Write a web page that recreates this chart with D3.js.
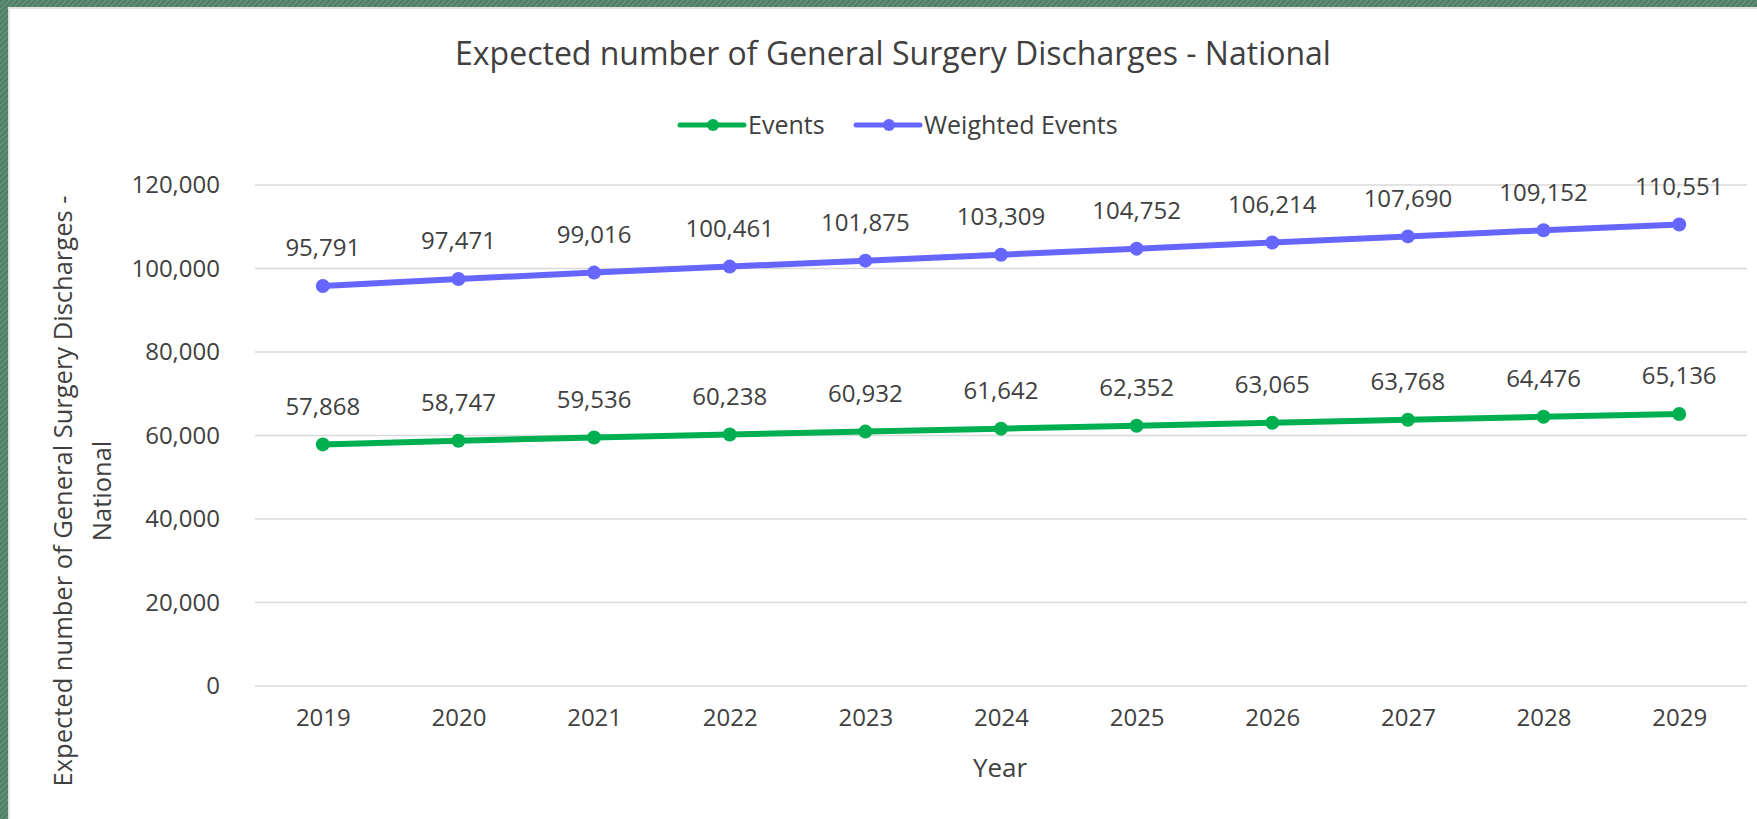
<!DOCTYPE html>
<html>
<meta charset="utf-8"/>
<head>
  <title>Expected number of General Surgery Discharges - National</title>
  <style>
    body { margin: 0; background: #5a8a72; }
    text {
      font-family: "Open Sans", sans-serif;
      fill: #404040;
    }
    .grid line {
      stroke: #d9d9d9;
      stroke-width: 1.5px;
    }
  </style>
</head>

<body>
  <svg width="1757" height="819"></svg>

  <script src="https://d3js.org/d3.v7.min.js"></script>
  <script>
// data
var years = ["2019", "2020", "2021", "2022", "2023", "2024", "2025", "2026", "2027", "2028", "2029"];
var events = [57868, 58747, 59536, 60238, 60932, 61642, 62352, 63065, 63768, 64476, 65136];
var weightedEvents = [95791, 97471, 99016, 100461, 101875, 103309, 104752, 106214, 107690, 109152, 110551];
var yTicks = [0, 20000, 40000, 60000, 80000, 100000, 120000];

var series = [
  { name: "Events", values: events, color: "#00b050" },
  { name: "Weighted Events", values: weightedEvents, color: "#6666ff" }
];

var svg = d3.select("svg");

// green hatched frame
var defs = svg.append("defs");
var pat = defs.append("pattern")
    .attr("id", "hatch")
    .attr("width", 4).attr("height", 4)
    .attr("patternUnits", "userSpaceOnUse")
    .attr("patternTransform", "rotate(45)");
pat.append("rect").attr("width", 4).attr("height", 4).attr("fill", "#5f8f77");
pat.append("rect").attr("width", 2).attr("height", 4).attr("fill", "#4e7d65");

svg.append("rect").attr("width", 1757).attr("height", 819).attr("fill", "url(#hatch)");
svg.append("rect").attr("x", 8).attr("y", 7).attr("width", 1757).attr("height", 819).attr("fill", "#e3e3e3");
svg.append("rect").attr("x", 10).attr("y", 9).attr("width", 1757).attr("height", 819).attr("fill", "#fff");

// plot area (window.top is reserved, so use other names)
var plotLeft = 255, plotRight = 1747, plotTop = 185, plotBottom = 686;

var x = d3.scalePoint()
    .domain(years)
    .range([plotLeft, plotRight])
    .padding(0.5);

var y = d3.scaleLinear()
    .domain([0, 120000])
    .range([plotBottom, plotTop]);

var fmt = d3.format(",");

// gridlines
svg.append("g")
    .attr("class", "grid")
  .selectAll("line")
  .data(yTicks)
  .enter().append("line")
    .attr("x1", plotLeft)
    .attr("x2", plotRight)
    .attr("y1", d => y(d))
    .attr("y2", d => y(d));

// y axis labels
var yAxis = svg.append("g")
    .attr("transform", "translate(" + (plotLeft - 35) + ",0)")
    .call(d3.axisLeft(y).tickValues(yTicks).tickFormat(fmt).tickSize(0).tickPadding(0));
yAxis.select(".domain").remove();
yAxis.selectAll("text")
    .attr("font-size", 24)
    .attr("fill", "#404040")
    .attr("font-family", "Open Sans, sans-serif");

// x axis labels
var xAxis = svg.append("g")
    .attr("transform", "translate(0," + (plotBottom + 23) + ")")
    .call(d3.axisBottom(x).tickSize(0).tickPadding(0));
xAxis.select(".domain").remove();
xAxis.selectAll("text")
    .attr("font-size", 24)
    .attr("fill", "#404040")
    .attr("font-family", "Open Sans, sans-serif");

// lines
var line = d3.line()
    .x((d, i) => x(years[i]))
    .y(d => y(d));

var g = svg.append("g")
  .selectAll("g")
  .data(series)
  .enter().append("g");

g.append("path")
    .attr("d", d => line(d.values))
    .attr("fill", "none")
    .attr("stroke", d => d.color)
    .attr("stroke-width", 6)
    .attr("stroke-linecap", "round");

g.each(function(s) {
  var sel = d3.select(this);
  sel.selectAll("circle")
    .data(s.values)
    .enter().append("circle")
      .attr("cx", (d, i) => x(years[i]))
      .attr("cy", d => y(d))
      .attr("r", 7)
      .attr("fill", s.color);
  sel.selectAll("text")
    .data(s.values)
    .enter().append("text")
      .attr("x", (d, i) => x(years[i]))
      .attr("y", d => y(d) - 38)
      .attr("dy", "0.35em")
      .attr("text-anchor", "middle")
      .attr("font-size", 24)
      .text(d => fmt(d));
});

// title
svg.append("text")
    .attr("x", 893)
    .attr("y", 54)
    .attr("dy", "0.35em")
    .attr("text-anchor", "middle")
    .attr("font-size", 32)
    .attr("fill", "#262626")
    .text("Expected number of General Surgery Discharges - National");

// legend
var legend = svg.append("g")
  .selectAll("g")
  .data(series)
  .enter().append("g")
    .attr("transform", (d, i) => "translate(" + (i == 0 ? 680 : 856) + ",125)");
legend.append("line")
    .attr("x1", 0).attr("x2", 64)
    .attr("stroke", d => d.color)
    .attr("stroke-width", 5)
    .attr("stroke-linecap", "round");
legend.append("circle")
    .attr("cx", 33).attr("r", 6)
    .attr("fill", d => d.color);
legend.append("text")
    .attr("x", 68)
    .attr("dy", "0.35em")
    .attr("font-size", 25)
    .attr("fill", "#262626")
    .text(d => d.name);

// axis titles
svg.append("text")
    .attr("x", 1000)
    .attr("y", 768)
    .attr("dy", "0.35em")
    .attr("text-anchor", "middle")
    .attr("font-size", 26)
    .text("Year");

var yt = svg.append("text")
    .attr("transform", "translate(63,491) rotate(-90)")
    .attr("text-anchor", "middle")
    .attr("font-size", 25.5);
yt.append("tspan").attr("x", 0).attr("dy", "0.35em").text("Expected number of General Surgery Discharges -");
yt.append("tspan").attr("x", 0).attr("dy", "1.55em").text("National");
  </script>
</body>

</html>
